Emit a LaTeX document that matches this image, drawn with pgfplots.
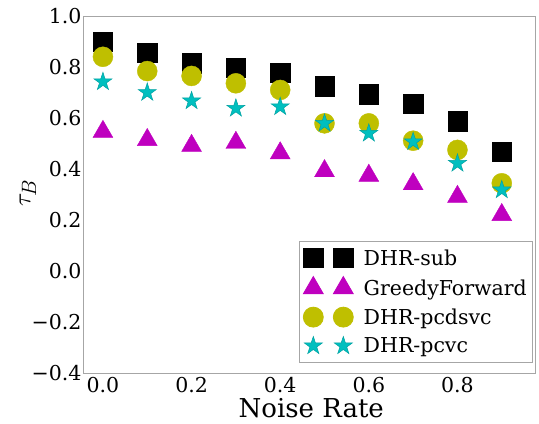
\documentclass[border=0pt]{standalone}
\usepackage{fontspec}
\setmainfont{DejaVu Serif}
\usepackage{pgfplots}
\pgfplotsset{compat=1.18}
\definecolor{mplm}{HTML}{BF00BF}
\definecolor{mply}{HTML}{BFBF00}
\definecolor{mplc}{HTML}{00BFBF}
\pgfdeclareplotmark{fstar}{%
  \pgfpathmoveto{\pgfpointpolar{90}{\pgfplotmarksize}}%
  \pgfpathlineto{\pgfpointpolar{126}{0.382\pgfplotmarksize}}%
  \pgfpathlineto{\pgfpointpolar{162}{\pgfplotmarksize}}%
  \pgfpathlineto{\pgfpointpolar{198}{0.382\pgfplotmarksize}}%
  \pgfpathlineto{\pgfpointpolar{234}{\pgfplotmarksize}}%
  \pgfpathlineto{\pgfpointpolar{270}{0.382\pgfplotmarksize}}%
  \pgfpathlineto{\pgfpointpolar{306}{\pgfplotmarksize}}%
  \pgfpathlineto{\pgfpointpolar{342}{0.382\pgfplotmarksize}}%
  \pgfpathlineto{\pgfpointpolar{18}{\pgfplotmarksize}}%
  \pgfpathlineto{\pgfpointpolar{54}{0.382\pgfplotmarksize}}%
  \pgfpathclose
  \pgfusepathqfillstroke
}
\begin{document}
\begin{tikzpicture}
\begin{axis}[
  scale only axis, width=452pt, height=357pt,
  xmin=-0.045, xmax=0.975, ymin=-0.4, ymax=1.0,
  axis line style={draw=gray!70, line width=0.8pt},
  major tick length=0pt,
  xtick={0,0.2,0.4,0.6,0.8},
  xticklabels={0.0,0.2,0.4,0.6,0.8},
  ytick={-0.4,-0.2,0,0.2,0.4,0.6,0.8,1.0},
  yticklabels={−0.4,−0.2,0.0,0.2,0.4,0.6,0.8,1.0},
  tick label style={font=\fontsize{20.5}{24}\selectfont},
  xticklabel style={yshift=-1pt},
  yticklabel style={xshift=2pt},
  xlabel={Noise Rate},
  xlabel style={font=\fontsize{26}{30}\selectfont, at={(axis description cs:0.505,-0.097)}, anchor=center},
  ylabel={$\tau_B$},
  ylabel style={font=\fontsize{30}{36}\selectfont, at={(axis description cs:-0.122,0.504)}, anchor=center},
  legend style={at={(0.996,0.028)}, anchor=south east, draw=gray!70, line width=0.8pt,
    font=\fontsize{20.5}{24}\selectfont, row sep=8pt, inner xsep=4pt, inner ysep=6.5pt},
  legend cell align=left,
  legend image code/.code={\draw plot coordinates {(0pt,0pt) (30pt,0pt)};\path (-10pt,0pt) (48pt,0pt);},
  only marks,
]
\addplot[mark=square*, mark size=9.75pt, draw=black, fill=black] coordinates {
(0.0,0.900) (0.1,0.856) (0.2,0.815) (0.3,0.797) (0.4,0.778)
(0.5,0.725) (0.6,0.694) (0.7,0.656) (0.8,0.587) (0.9,0.468)};
\addlegendentry{DHR-sub}
\addplot[mark=triangle*, mark size=11.5pt, draw=mplm, fill=mplm] coordinates {
(0.0,0.546) (0.1,0.514) (0.2,0.491) (0.3,0.503) (0.4,0.462)
(0.5,0.392) (0.6,0.374) (0.7,0.341) (0.8,0.291) (0.9,0.220)};
\addlegendentry{GreedyForward}
\addplot[mark=*, mark size=10pt, draw=mply, fill=mply] coordinates {
(0.0,0.840) (0.1,0.784) (0.2,0.765) (0.3,0.736) (0.4,0.710)
(0.5,0.579) (0.6,0.579) (0.7,0.511) (0.8,0.475) (0.9,0.344)};
\addlegendentry{DHR-pcdsvc}
\addplot[mark=fstar, mark size=9.5pt, draw=mplc!85!black, fill=mplc, mark options={line width=0.5pt}] coordinates {
(0.0,0.742) (0.1,0.700) (0.2,0.667) (0.3,0.638) (0.4,0.644)
(0.5,0.579) (0.6,0.540) (0.7,0.507) (0.8,0.422) (0.9,0.318)};
\addlegendentry{DHR-pcvc}
\end{axis}
\path (current axis.south west) ++(-83pt,-51pt) coordinate (bbA);
\path (current axis.north east) ++(4pt,16pt) coordinate (bbB);
\path (bbA) rectangle (bbB);
\end{tikzpicture}
\end{document}
